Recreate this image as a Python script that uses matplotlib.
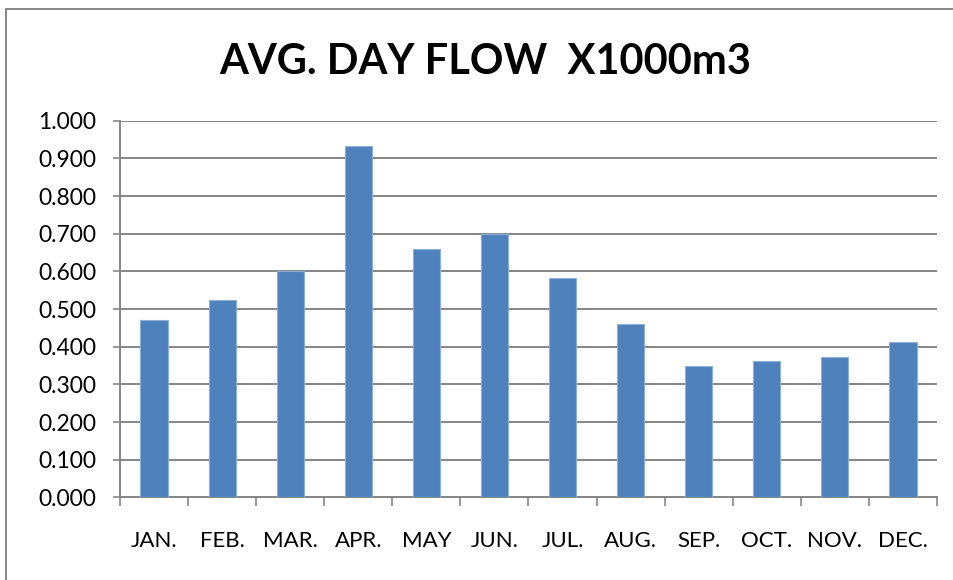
import numpy as np
import matplotlib
matplotlib.use("Agg")
import matplotlib.pyplot as plt
from matplotlib.patches import Rectangle

plt.rcParams['font.family'] = ['Lato', 'DejaVu Sans']

months = ['JAN.', 'FEB.', 'MAR.', 'APR.', 'MAY', 'JUN.', 'JUL.', 'AUG.', 'SEP.', 'OCT.', 'NOV.', 'DEC.']
flow = [0.470, 0.523, 0.601, 0.932, 0.659, 0.700, 0.583, 0.460, 0.348, 0.361, 0.372, 0.413]
yticks = [0.0, 0.1, 0.2, 0.3, 0.4, 0.5, 0.6, 0.7, 0.8, 0.9, 1.0]

W, H = 954, 580
fig = plt.figure(figsize=(W / 100, H / 100), dpi=100)
ax = fig.add_axes([120 / W, 1 - 497.4 / H, (937 - 120) / W, (497.4 - 120.7) / H])

# chart area border (right and bottom edges fall outside the image)
fig.patches.append(Rectangle((6.5 / W, -0.05), 1.0, 1.05 - 8.5 / H,
                             transform=fig.transFigure, fill=False,
                             edgecolor='#878787', linewidth=1.4))

x = np.arange(len(months))
ax.bar(x, flow, width=0.4, color='#4F81BD', edgecolor='#8DB0DA', linewidth=0.8, zorder=3)

ax.set_xlim(-0.5, len(months) - 0.5)
ax.set_ylim(0, 1.0)
ax.set_yticks(yticks)
ax.set_yticklabels([f'{v:.3f}' for v in yticks], fontsize=16.5)
ax.yaxis.grid(True, color='#868686', linewidth=1.4, zorder=0)
ax.set_xticks(x)
ax.set_xticklabels(months, fontsize=16)
ax.set_xticks(np.arange(-0.5, len(months)), minor=True)
ax.tick_params(axis='x', which='major', length=0, pad=24)
ax.tick_params(axis='x', which='minor', length=6.5, width=1.2, color='#868686')
ax.tick_params(axis='y', length=5, width=1.2, color='#868686', pad=12)

for s in ['top', 'right']:
    ax.spines[s].set_visible(False)
ax.spines['left'].set_color('#868686')
ax.spines['bottom'].set_color('#868686')
ax.spines['left'].set_linewidth(1.4)
ax.spines['bottom'].set_linewidth(1.4)

fig.text(485 / W, 1 - 62 / H, 'AVG. DAY FLOW  X1000m3', ha='center', va='center',
         fontsize=30, fontweight='bold')

fig.savefig('out.png', dpi=100)
